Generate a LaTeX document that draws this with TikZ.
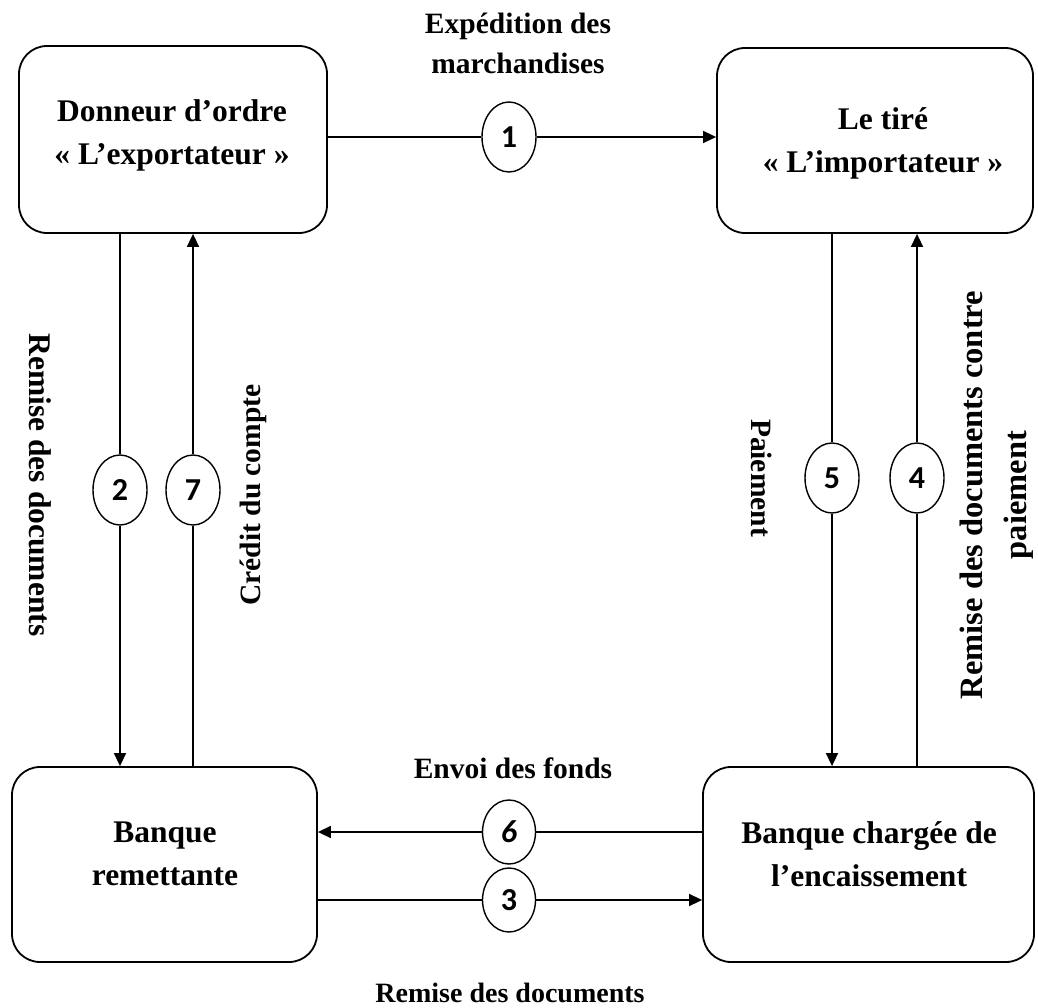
\documentclass[tikz,border=0pt]{standalone}
\usepackage{fontspec}
\setmainfont{Liberation Serif}
\newfontfamily\numfont{Carlito}
\usetikzlibrary{arrows.meta,shapes.geometric}

\begin{document}
\begin{tikzpicture}[x=1pt,y=-1pt,
  party/.style={draw, line width=1.8pt, rounded corners=28pt, rectangle, inner sep=0pt},
  boxtext/.style={align=center, font=\bfseries\fontsize{31.5}{43}\selectfont, inner sep=0pt},
  flowlabel/.style={align=center, font=\bfseries\fontsize{29.5}{41}\selectfont, inner sep=0pt},
  stepmark/.style={draw, ellipse, line width=1.4pt, minimum width=54pt, minimum height=70pt,
    inner sep=0pt, fill=white, font=\numfont\bfseries\fontsize{32}{34}\selectfont},
  lowmark/.style={stepmark, minimum width=53pt, minimum height=64pt},
  flow/.style={line width=1.6pt},
  tip/.style={flow, -{Triangle[length=13pt,width=12pt]}}
]
\useasboundingbox (0,0) rectangle (1038,1008);

% the four parties
\node[party, minimum width=308pt, minimum height=187pt] (exp) at (173,139.5) {};
\node[party, minimum width=316pt, minimum height=185pt] (imp) at (875,140.5) {};
\node[party, minimum width=305pt, minimum height=195pt] (rem) at (164.5,864.5) {};
\node[party, minimum width=331pt, minimum height=195pt] (enc) at (868.5,864.5) {};

\node[boxtext] (expname) at (172,135) {Donneur d’ordre\\« L’exportateur »};
\node[boxtext] (impname) at (883,143) {Le tiré\\« L’importateur »};
\node[boxtext] (remname) at (165,854) {Banque\\remettante};
\node[boxtext] (encname) at (869,854) {Banque chargée de\\l’encaissement};

% numbered steps
\node[stepmark] (e1) at (509,137) {1};
\node[stepmark] (e2) at (120,490) {2};
\node[stepmark] (e7) at (193,490) {7};
\node[stepmark] (e5) at (832,478) {5};
\node[stepmark] (e4) at (917,478) {4};
\node[lowmark] (e6) at (509,832) {\itshape 6};
\node[lowmark] (e3) at (509,900) {3};

% flows
\draw[flow] (exp.east |- e1) -- (e1.west);
\draw[tip] (e1.east) -- (imp.west |- e1);

\draw[flow] (exp.south -| e2) -- (e2.north);
\draw[tip] (e2.south) -- (rem.north -| e2);

\draw[flow] (rem.north -| e7) -- (e7.south);
\draw[tip] (e7.north) -- (exp.south -| e7);

\draw[flow] (imp.south -| e5) -- (e5.north);
\draw[tip] (e5.south) -- (enc.north -| e5);

\draw[flow] (enc.north -| e4) -- (e4.south);
\draw[tip] (e4.north) -- (imp.south -| e4);

\draw[flow] (enc.west |- e6) -- (e6.east);
\draw[tip] (e6.west) -- (rem.east |- e6);

\draw[flow] (rem.east |- e3) -- (e3.west);
\draw[tip] (e3.east) -- (enc.west |- e3);

% flow labels
\node[flowlabel, font=\bfseries\fontsize{29.5}{40}\selectfont] (l1) at (518,43) {Expédition des\\marchandises};
\node[flowlabel, anchor=base] (l6) at (513,778) {Envoi des fonds};
\node[flowlabel, anchor=base, font=\bfseries\fontsize{28}{34}\selectfont] (l3) at (510,1002) {Remise des documents};
\node[flowlabel, rotate=-90, font=\bfseries\fontsize{31.5}{40}\selectfont] (l2) at (40,485) {Remise des documents};
\node[flowlabel, rotate=90] (l7) at (253,495) {Crédit du compte};
\node[flowlabel, rotate=-90] (l5) at (762,478) {Paiement};
\node[flowlabel, rotate=90, font=\bfseries\fontsize{32.5}{44}\selectfont] (l4) at (997,495) {Remise des documents contre\\paiement};
\end{tikzpicture}
\end{document}
